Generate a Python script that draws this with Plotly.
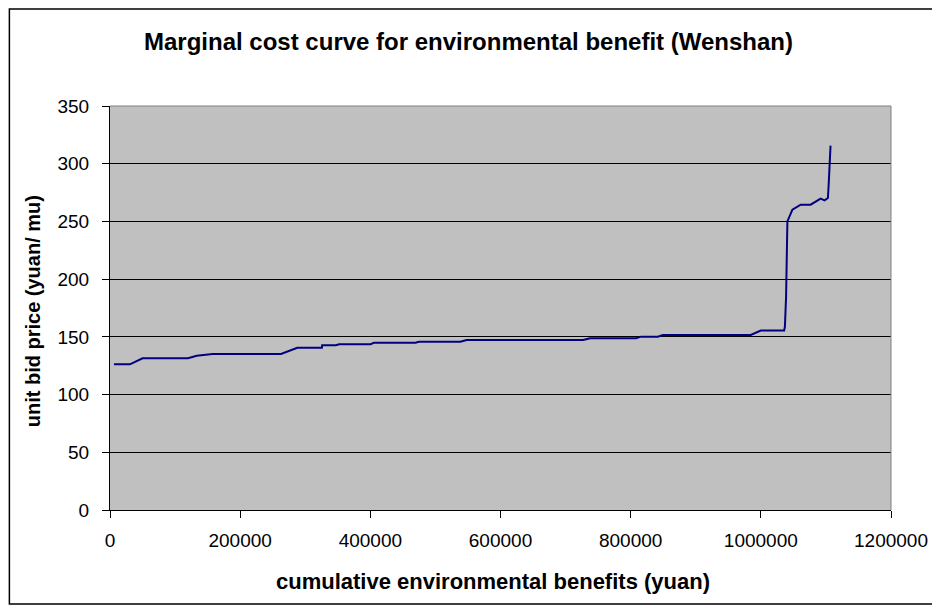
import plotly.graph_objects as go

# cumulative environmental benefits (yuan)
benefit = [6100, 30600, 50000, 119800, 133200, 157700, 262800, 287800, 325600,
           326000, 347000, 352000, 400600, 405600, 469400, 474500, 538300, 548000,
           727000, 737700, 808200, 815800, 841800, 849400, 984600, 999900, 1035800,
           1037000, 1038800, 1040800, 1048500, 1061200, 1076500, 1086700, 1091800,
           1097900, 1103100, 1104600, 1107100]
# unit bid price (yuan/mu)
price = [126.2, 126.2, 131.4, 131.4, 133.7, 135.2, 135.2, 140.6, 140.6,
         142.7, 142.7, 143.6, 143.6, 145.0, 145.0, 145.8, 145.8, 147.3,
         147.3, 148.8, 148.8, 150.2, 150.2, 151.6, 151.6, 155.4, 155.4,
         158.9, 185.0, 250.0, 260.2, 264.5, 264.5, 268.2, 269.7,
         268.2, 270.3, 286.0, 315.7]

title_text = "Marginal cost curve for environmental benefit (Wenshan)"
x_title = "cumulative environmental benefits (yuan)"
y_title = "unit bid price (yuan/ mu)"

FONT = "Liberation Sans, Arial, sans-serif"

OFF = 8  # page body margin
W, H = 940 - OFF, 608 - OFF
L, T = 110 - OFF, 106 - OFF
R = W - (894 - OFF)
B = H - (510 - OFF)
pw, ph = W - L - R, H - T - B


def px(x):
    return (x - OFF - L) / pw


def py(y):
    return (H - B - (y - OFF)) / ph


fig = go.Figure()
fig.add_trace(go.Scatter(x=benefit, y=price, mode="lines",
                         line=dict(color="#000080", width=2), showlegend=False))

fig.update_layout(
    width=W, height=H,
    margin=dict(l=L, r=R, t=T, b=B, pad=0),
    paper_bgcolor="white", plot_bgcolor="#C0C0C0",
    font=dict(family=FONT, size=19, color="black"),
    xaxis=dict(range=[0, 1200000], dtick=200000, tick0=0, tickformat="d",
               showgrid=False, zeroline=False, showline=True, linecolor="black",
               linewidth=1, ticks="outside", ticklen=7, tickcolor="black",
               ticklabelstandoff=6),
    yaxis=dict(range=[0, 350], dtick=50, tick0=0,
               showgrid=True, gridcolor="black", gridwidth=1, zeroline=False,
               showline=True, linecolor="black", linewidth=1,
               ticks="outside", ticklen=7, tickcolor="black",
               ticklabelstandoff=9),
    annotations=[
        dict(text="<b>" + title_text + "</b>", xref="paper", yref="paper",
             x=px(470), y=py(41), xanchor="center", yanchor="middle",
             showarrow=False, font=dict(size=24, family=FONT)),
        dict(text="<b>" + x_title + "</b>", xref="paper", yref="paper",
             x=px(494), y=py(581), xanchor="center", yanchor="middle",
             showarrow=False, font=dict(size=22, family=FONT)),
        dict(text="<b>" + y_title + "</b>", xref="paper", yref="paper",
             x=px(33), y=py(311), xanchor="center", yanchor="middle",
             textangle=-90, showarrow=False, font=dict(size=20, family=FONT)),
    ],
    shapes=[
        dict(type="line", xref="paper", yref="paper", x0=0, x1=1, y0=1, y1=1,
             line=dict(color="#808080", width=1)),
        dict(type="line", xref="paper", yref="paper", x0=1, x1=1, y0=0, y1=1,
             line=dict(color="#808080", width=1)),
        dict(type="rect", xref="paper", yref="paper",
             x0=px(9), x1=px(937), y0=py(604), y1=py(9),
             line=dict(color="black", width=1.5), fillcolor="rgba(0,0,0,0)"),
    ],
)

fig.write_html("out.html")
